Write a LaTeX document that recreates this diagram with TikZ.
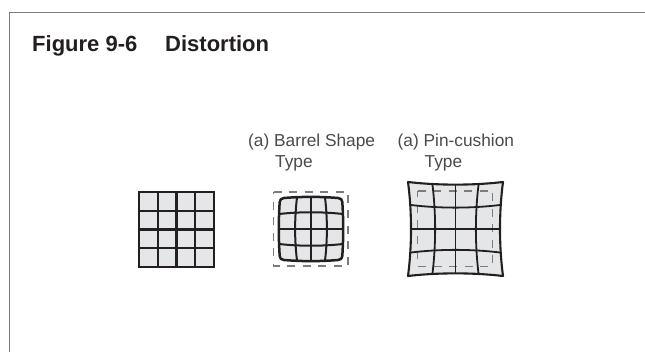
\documentclass[tikz,border=0pt]{standalone}
\usepackage{fontspec}
\setmainfont{Liberation Sans}
\usepackage{tikz}
\definecolor{ink}{HTML}{231F20}
\definecolor{ink2}{HTML}{4A4A4C}
\definecolor{muted}{HTML}{7A7C7F}
\definecolor{surface}{HTML}{E5E6E7}
\tikzset{
  title/.style={anchor=base west, inner sep=0pt, font=\fontsize{22}{26}\selectfont\bfseries, text=ink},
  lab/.style={anchor=base west, inner sep=0pt, align=left, font=\fontsize{17.3}{21}\selectfont, text=ink2},
  frameline/.style={draw=muted, line width=1.2pt},
  guide/.style={draw=muted, line width=1.4pt, dash pattern=on 8pt off 7.5pt},
  edge/.style={draw=ink, line width=#1, fill=surface, line join=round},
  wire/.style={draw=ink, line width=#1},
}
\begin{document}
\begin{tikzpicture}[x=1pt,y=-1pt]
  \useasboundingbox (0,0) rectangle (645,352);
  \draw[frameline] (9.5,352) -- (9.5,12.5) -- (645,12.5);
  \node[title] (fig) at (32,52) {Figure 9-6};
  \node[title] (name) at (165,52) {Distortion};
  \node[lab] (barrel) at (248,168) {(a) Barrel Shape\\\hspace*{27pt}Type};
  \node[lab] (pin) at (397.5,168) {(a) Pin-cushion\\\hspace*{27pt}Type};
  % plain grid
  \fill[surface] (139,192) rectangle (214,267);
  \foreach \i in {0,1,2,3,4} {
    \draw[wire=2.4pt] ({139+18.75*\i},191) -- ({139+18.75*\i},268);
    \draw[wire=2.4pt] (138,{192+18.75*\i}) -- (215,{192+18.75*\i});
  }
  % barrel
  \draw[guide] (273.5,192) -- (348,192) -- (348,266) -- (273.5,266) -- cycle;
  \draw[edge=2.5pt] (284,198) .. controls (302,196.5) and (320,196.5) .. (338,198)
    .. controls (341,198.3) and (342,199.5) .. (342.3,202)
    .. controls (343.5,220) and (343.5,238) .. (342.3,256)
    .. controls (342,258.5) and (341,259.8) .. (338,260)
    .. controls (320,261.5) and (302,261.5) .. (284,260)
    .. controls (281,259.8) and (280,258.5) .. (279.7,256)
    .. controls (278.5,238) and (278.5,220) .. (279.7,202)
    .. controls (280,199.5) and (281,198.3) .. (284,198) -- cycle;
  \draw[wire=2pt] (297,197.5) .. controls (294.5,218) and (294.5,240) .. (297,260.5);
  \draw[wire=2pt] (311,197) -- (311,261);
  \draw[wire=2pt] (325,197.5) .. controls (327.5,218) and (327.5,240) .. (325,260.5);
  \draw[wire=2pt] (279,214) .. controls (300,211.7) and (322,211.7) .. (343,214);
  \draw[wire=2pt] (278.5,229) -- (343.5,229);
  \draw[wire=2pt] (279,244) .. controls (300,246.3) and (322,246.3) .. (343,244);
  % pin-cushion
  \draw[edge=2.1pt] (408,182) .. controls (438,185.5) and (473,185.5) .. (503,182)
    .. controls (499,212) and (499,246) .. (503,276)
    .. controls (473,272.5) and (438,272.5) .. (408,276)
    .. controls (412,246) and (412,212) .. (408,182) -- cycle;
  \draw[guide] (417.5,191) -- (492.5,191) -- (492.5,266.5) -- (417.5,266.5) -- cycle;
  \draw[wire=1.8pt] (432.5,185) .. controls (436,214) and (436,244) .. (432.5,273.5);
  \draw[wire=1.8pt] (455.5,184.5) -- (455.5,274);
  \draw[wire=1.8pt] (478.5,185) .. controls (475,214) and (475,244) .. (478.5,273.5);
  \draw[wire=1.8pt] (411,205) .. controls (440,208.5) and (471,208.5) .. (500,205);
  \draw[wire=1.8pt] (411.5,229) -- (499.5,229);
  \draw[wire=1.8pt] (411,252.5) .. controls (440,249) and (471,249) .. (500,252.5);
\end{tikzpicture}
\end{document}
